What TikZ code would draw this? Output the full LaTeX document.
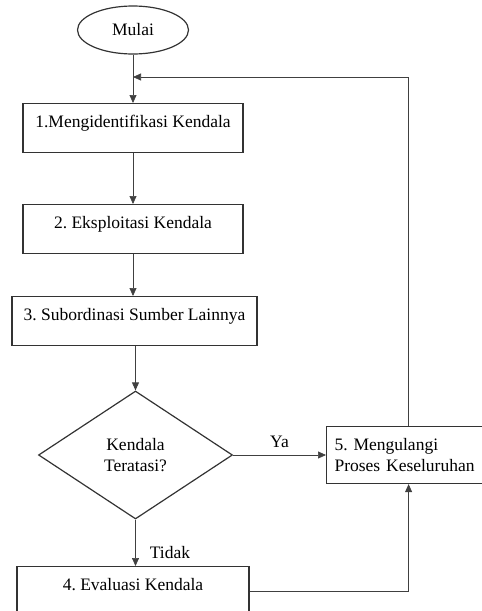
\documentclass[tikz,border=0pt]{standalone}
\usepackage{fontspec}
\setmainfont{Liberation Serif}
\usetikzlibrary{shapes.geometric,arrows.meta}
\frenchspacing

\begin{document}
\begin{tikzpicture}[x=1pt, y=-1pt,
    font=\fontsize{17.5}{21}\selectfont,
    bentuk/.style={draw=black!80, line width=1.2pt, inner sep=0pt},
    kotak/.style={bentuk, text height=24pt, text depth=25pt, anchor=north},
    panah/.style={draw=black!75, line width=0.7pt, -{Triangle[length=8pt,width=7pt]}},
    ket/.style={inner sep=2pt}]
    %
    \path[use as bounding box, clip] (0,0) rectangle (482,611);

    %
    \node[bentuk, ellipse, minimum width=111pt, minimum height=48pt] (M) at (133,30) {Mulai};
    \node[kotak, minimum width=220pt] (K1) at (133,103) {1.Mengidentifikasi Kendala};
    \node[kotak, minimum width=220pt] (K2) at (133,204) {2. Eksploitasi Kendala};
    \node[kotak, minimum width=245pt] (K3) at (134.5,296) {3. Subordinasi Sumber Lainnya};
    \node[bentuk, diamond, aspect=1.52, minimum width=194pt, minimum height=128pt, align=center] (D) at (135.5,455) {Kendala\\Teratasi?};
    \node[kotak, minimum width=232pt] (K4) at (133,566) {4. Evaluasi Kendala};
    \node[bentuk, anchor=west, inner xsep=8pt, minimum height=57pt, text width=148pt, align=left] (K5) at (326,455) {5. Mengulangi\\Proses Keseluruhan};

    %
    \coordinate (T) at (133,77); %

    %
    \draw[panah] (M) -- (K1);
    \draw[panah] (K1) -- (K2);
    \draw[panah] (K2) -- (K2 |- K3.north);
    \draw[panah] (K3.south -| D) -- (D);
    \draw[panah] (D) -- (K5) node[ket, midway, above=5pt] {Ya};
    \draw[panah] (D) -- (D |- K4.north) node[ket, pos=0.7, right=12pt] {Tidak};

    %
    \draw[panah] (K4.east) -| (K5.south);
    \draw[panah] (K5.north) |- (T);

\end{tikzpicture}
\end{document}
